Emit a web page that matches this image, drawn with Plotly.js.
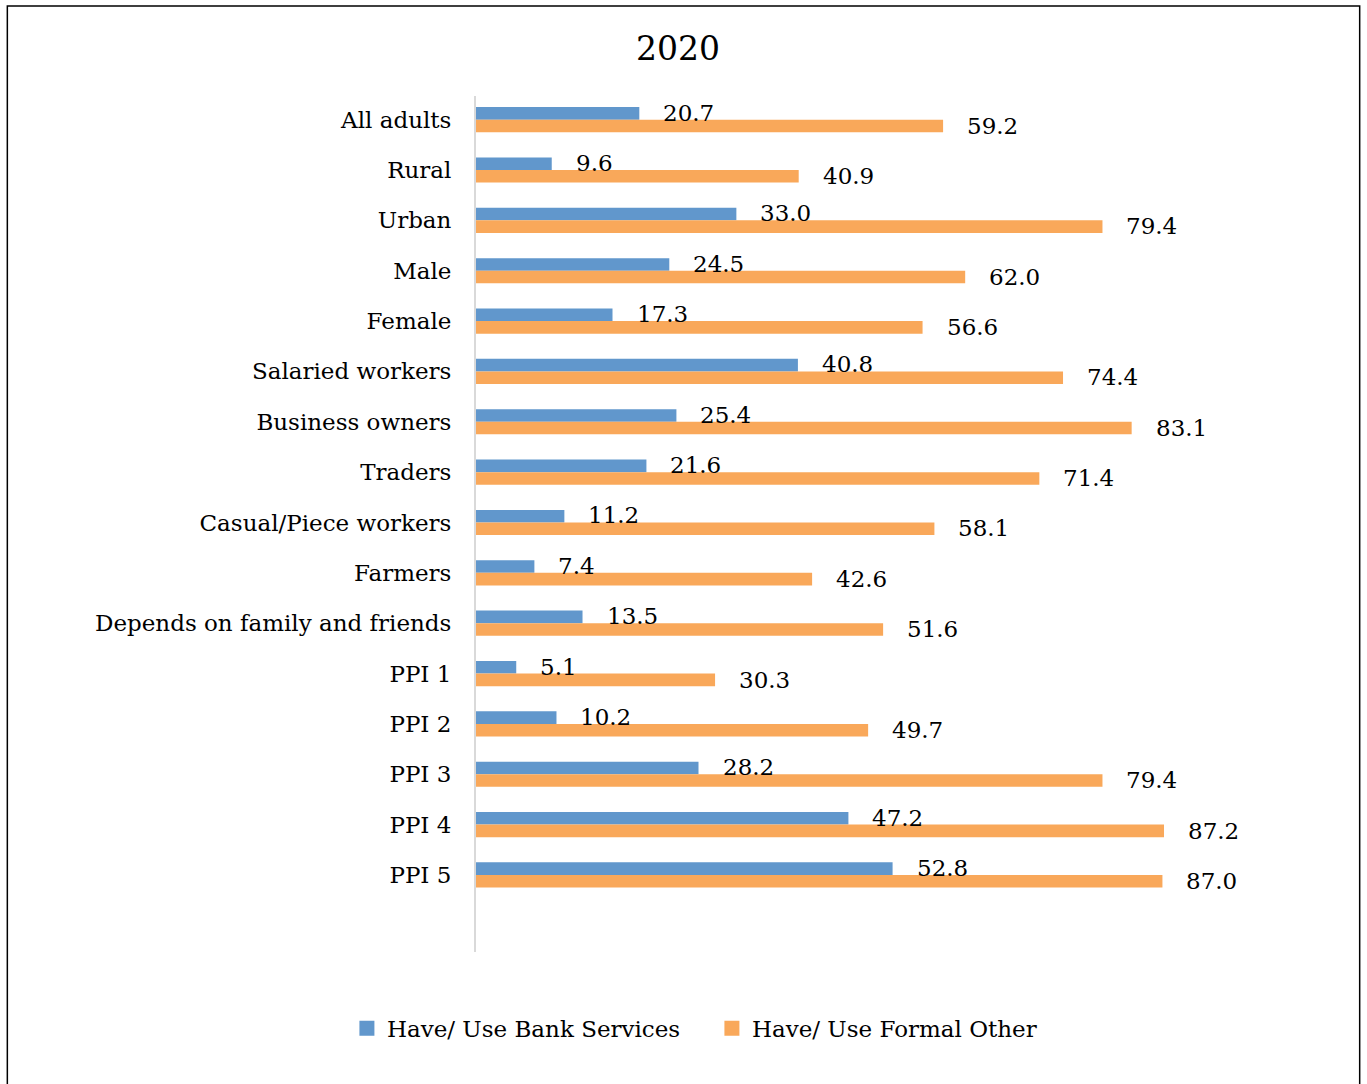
<!DOCTYPE html>
<html>
<head>
<meta charset="utf-8">
<script src="https://cdn.plot.ly/plotly-3.0.1.min.js"></script>
<style>
html,body{margin:0;padding:0;background:#fff;}
#chart{width:1367px;height:1084px;}
</style>
</head>
<body>
<div id="chart"></div>
<script>
const categories = ["All adults","Rural","Urban","Male","Female","Salaried workers","Business owners","Traders","Casual/Piece workers","Farmers","Depends on family and friends","PPI 1","PPI 2","PPI 3","PPI 4","PPI 5"];
const bankServices = [20.7, 9.6, 33.0, 24.5, 17.3, 40.8, 25.4, 21.6, 11.2, 7.4, 13.5, 5.1, 10.2, 28.2, 47.2, 52.8];
const formalOther = [59.2, 40.9, 79.4, 62.0, 56.6, 74.4, 83.1, 71.4, 58.1, 42.6, 51.6, 30.3, 49.7, 79.4, 87.2, 87.0];
const seriesNames = ["Have/ Use Bank Services", "Have/ Use Formal Other"];

const FONT = "DejaVu Serif, Cambria, serif";
const BLUE = "#6197cc";
const ORANGE = "#f9a85a";

const traces = [
  {type:"bar", orientation:"h", name:seriesNames[0], y:categories, x:bankServices,
   marker:{color:BLUE}, hoverinfo:"skip", showlegend:false},
  {type:"bar", orientation:"h", name:seriesNames[1], y:categories, x:formalOther,
   marker:{color:ORANGE}, hoverinfo:"skip", showlegend:false},
  {type:"scatter", mode:"markers", name:seriesNames[0], x:[null], y:[null],
   marker:{color:BLUE, symbol:"square", size:15}, showlegend:true},
  {type:"scatter", mode:"markers", name:seriesNames[1], x:[null], y:[null],
   marker:{color:ORANGE, symbol:"square", size:15}, showlegend:true}
];

const annotations = [];
categories.forEach((c, i) => {
  annotations.push({x:bankServices[i], y:c, xref:"x", yref:"y", text:bankServices[i].toFixed(1),
    showarrow:false, xanchor:"left", yanchor:"middle", xshift:22, yshift:7,
    font:{family:FONT, size:23, color:"#000"}});
  annotations.push({x:formalOther[i], y:c, xref:"x", yref:"y", text:formalOther[i].toFixed(1),
    showarrow:false, xanchor:"left", yanchor:"middle", xshift:22, yshift:-6,
    font:{family:FONT, size:23, color:"#000"}});
});

const layout = {
  width:1367, height:1084,
  margin:{l:476, r:102, t:96, b:132},
  paper_bgcolor:"#fff", plot_bgcolor:"#fff",
  font:{family:FONT, size:23, color:"#000"},
  title:{text:"2020", font:{family:FONT, size:33, color:"#000"},
         x:0.496, xref:"container", y:0.955, yref:"container", xanchor:"center", yanchor:"middle"},
  barmode:"group", bargap:0.5, bargroupgap:0,
  xaxis:{range:[0,100], showgrid:false, zeroline:false, showticklabels:false, ticks:"", showline:false, fixedrange:true},
  yaxis:{type:"category", categoryorder:"array", categoryarray:categories,
         range:[16.53,-0.47], showgrid:false, zeroline:false, showline:true,
         linecolor:"#d9d9d9", linewidth:2, ticks:"", ticklabelstandoff:18,
         tickfont:{family:FONT, size:23, color:"#000"}, automargin:false},
  showlegend:true,
  legend:{orientation:"h", x:0.299, xanchor:"center", y:-0.089, yanchor:"middle",
          font:{family:FONT, size:23, color:"#000"}, itemwidth:30, entrywidth:320, traceorder:"normal"},
  annotations:annotations,
  shapes:[{type:"rect", xref:"paper", yref:"paper", x0:-0.594, x1:1.12, y0:-0.2, y1:1.105,
           line:{color:"#000", width:1.5}, fillcolor:"rgba(0,0,0,0)", layer:"below"}]
};

Plotly.newPlot("chart", traces, layout, {displayModeBar:false, staticPlot:true});
</script>
</body>
</html>
